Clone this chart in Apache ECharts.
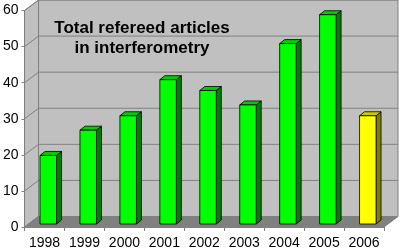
<!DOCTYPE html>
<html>
<head>
<meta charset="utf-8">
<script src="https://cdn.jsdelivr.net/npm/echarts@6/dist/echarts.min.js"></script>
<style>html,body{margin:0;padding:0;background:#fff;}#c{width:399px;height:250px;}</style>
</head>
<body>
<div id="c"></div>
<script>
const years = ['1998','1999','2000','2001','2002','2003','2004','2005','2006'];
const articles = [19, 26, 30, 40, 37, 33, 50, 58, 30];
const partialYears = ['2006'];
const yTicks = [0, 10, 20, 30, 40, 50, 60];
const titleLines = ['Total refereed articles', 'in interferometry'];

const FONT = '"Liberation Sans", Arial, sans-serif';
const DX = 14, DY = 10.5;        // wall depth
const BDX = 5, BDY = 4;           // bar depth
const BOY = -3;                   // bar plane offset

const chart = echarts.init(document.getElementById('c'), null, {renderer: 'canvas'});

function wallsRender(params, api) {
  const band = api.size([1, 0])[0];
  const p0 = api.coord([0, 0]);
  const pN = api.coord([years.length - 1, 0]);
  const xl = p0[0] - band / 2, xr = pN[0] + band / 2;
  const yb = api.coord([0, yTicks[0]])[1];
  const yt = api.coord([0, yTicks[yTicks.length - 1]])[1];
  const children = [];
  children.push({type: 'polygon', shape: {points: [[xl, yb], [xl, yt], [xl + DX, yt - DY], [xl + DX, yb - DY]]},
    style: {fill: '#c0c0c0', stroke: '#808080', lineWidth: 1}});
  children.push({type: 'rect', shape: {x: xl + DX, y: yt - DY, width: xr - xl, height: yb - yt},
    style: {fill: '#c0c0c0', stroke: '#808080', lineWidth: 1}});
  yTicks.forEach(function (v) {
    const y = api.coord([0, v])[1];
    children.push({type: 'polyline', shape: {points: [[xl, y], [xl + DX, y - DY], [xr + DX, y - DY]]},
      style: {fill: null, stroke: '#808080', lineWidth: 1}});
  });
  children.push({type: 'polygon', shape: {points: [[xl, yb], [xr, yb], [xr + DX, yb - DY], [xl + DX, yb - DY]]},
    style: {fill: '#808080', stroke: '#808080', lineWidth: 1}});
  return {type: 'group', children: children};
}

function barRender(params, api) {
  const i = api.value(0), v = api.value(1);
  const top = api.coord([i, v]);
  const base = api.coord([i, 0]);
  const cx = top[0];
  const L = cx - 4.5, R = cx + 12;
  const T = top[1] + BOY, B = base[1] + BOY;
  const isPartial = partialYears.indexOf(years[i]) >= 0;
  const cFront = isPartial ? '#ffff00' : '#00ff00';
  const cTop = isPartial ? '#cccc00' : '#00cc00';
  const cSide = isPartial ? '#808000' : '#008000';
  const st = {stroke: '#000', lineWidth: 0.8};
  return {type: 'group', children: [
    {type: 'polygon', shape: {points: [[R, T], [R + BDX, T - BDY], [R + BDX, B - BDY], [R, B]]},
      style: Object.assign({fill: cSide}, st)},
    {type: 'polygon', shape: {points: [[L, T], [R, T], [R + BDX, T - BDY], [L + BDX, T - BDY]]},
      style: Object.assign({fill: cTop}, st)},
    {type: 'rect', shape: {x: L, y: T, width: R - L, height: B - T},
      style: Object.assign({fill: cFront}, st)}
  ]};
}

chart.setOption({
  animation: false,
  backgroundColor: '#ffffff',
  grid: {left: 22, right: 15, top: 10.5, bottom: 21, containLabel: false},
  xAxis: {
    type: 'category', data: years,
    axisLine: {show: true, lineStyle: {color: '#808080', width: 1}},
    axisTick: {show: true, length: 4, lineStyle: {color: '#808080'}},
    axisLabel: {color: '#000', fontSize: 14, fontFamily: FONT, margin: 9, interval: 0, hideOverlap: false},
    splitLine: {show: false}, z: 5
  },
  yAxis: {
    type: 'value', min: 0, max: 60, interval: 10,
    axisLine: {show: true, lineStyle: {color: '#808080', width: 1}},
    axisTick: {show: true, length: 3, lineStyle: {color: '#808080'}},
    axisLabel: {color: '#000', fontSize: 14, fontFamily: FONT, margin: 6},
    splitLine: {show: false}, z: 5
  },
  graphic: [{
    type: 'text', x: 142, y: 18, z: 100,
    style: {text: titleLines.join('\n'), fill: '#000', font: 'bold 17px ' + FONT,
      textAlign: 'center', textVerticalAlign: 'top', lineHeight: 20}
  }],
  series: [
    {type: 'custom', renderItem: wallsRender, data: [[0, 0]], clip: false, silent: true, z: 1},
    {type: 'custom', renderItem: barRender, data: articles.map(function (v, i) { return [i, v]; }),
      encode: {x: 0, y: 1}, clip: false, z: 3}
  ]
});
</script>
</body>
</html>
